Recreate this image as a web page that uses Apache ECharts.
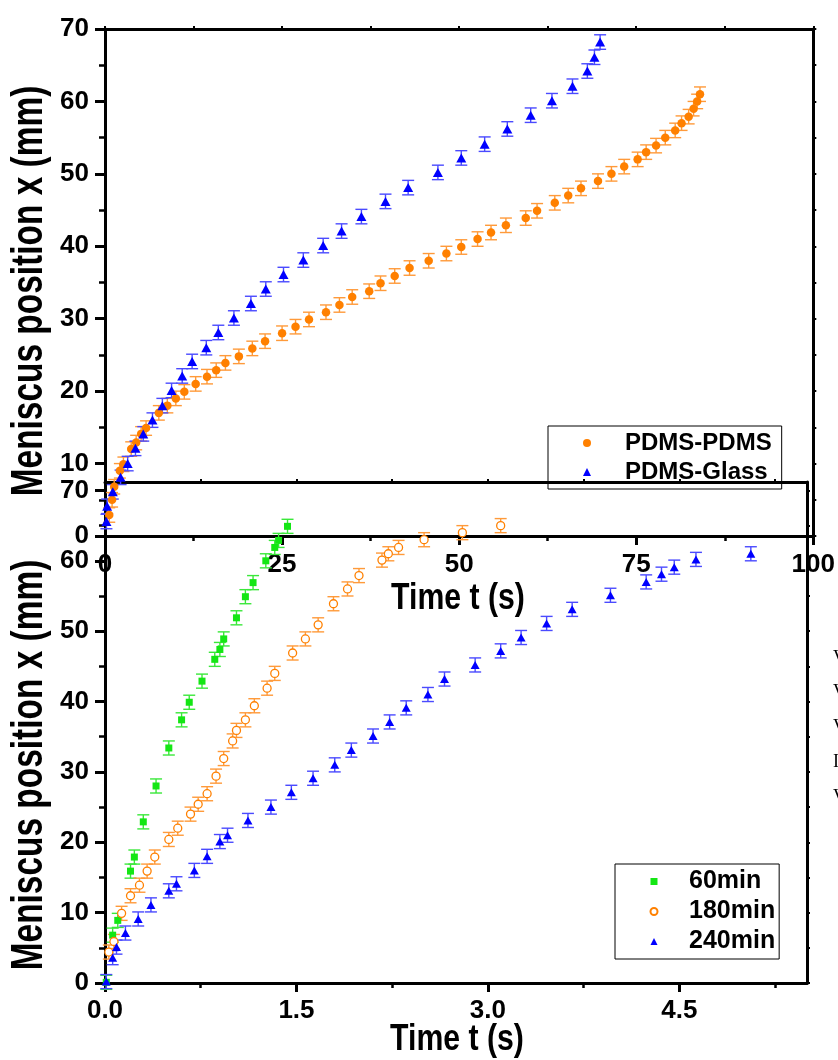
<!DOCTYPE html>
<html>
<head>
<meta charset="utf-8">
<script src="https://cdn.jsdelivr.net/npm/echarts@6/dist/echarts.min.js"></script>
<style>
html,body{margin:0;padding:0;background:#fff;}
#c{width:838px;height:1060px;}
</style>
</head>
<body>
<div id="c"></div>
<script>
// ---------- DATA ----------
// Top panel: time (s) vs meniscus position (mm)
const pdmsPdmsT = [0.6,1.0,1.3,2.1,2.6,3.7,4.4,5.1,5.8,7.6,8.8,10.0,11.2,12.8,14.4,15.7,17.0,18.9,20.8,22.6,25.0,26.9,28.8,31.2,33.1,34.9,37.3,38.9,40.9,43.0,45.7,48.2,50.3,52.6,54.5,56.6,59.4,61.0,63.5,65.4,67.2,69.6,71.5,73.3,75.2,76.4,77.8,79.1,80.5,81.4,82.4,83.1,83.6,84.0];
const pdmsPdmsX = [2.9,5.0,6.8,9.0,9.9,12.0,12.9,14.1,14.9,17.0,18.0,19.0,19.9,21.0,22.0,22.9,23.9,24.8,25.9,26.9,28.0,28.9,29.9,30.9,31.9,33.0,33.8,34.9,35.9,37.0,38.0,39.0,39.9,41.0,41.9,42.9,43.9,44.9,46.0,47.0,48.0,49.0,50.0,51.0,52.0,53.0,53.9,55.0,56.0,57.0,57.9,59.0,60.0,61.0];
const pdmsGlassT = [0.2,0.3,1.1,2.2,3.2,4.3,5.4,6.7,8.1,9.4,10.9,12.3,14.3,16.0,18.2,20.6,22.7,25.2,28.0,30.8,33.4,36.2,39.6,42.8,47.0,50.3,53.6,56.8,60.1,63.1,66.0,68.1,69.1,69.9];
const pdmsGlassX = [2.0,4.1,6.1,8.1,10.0,12.1,14.1,16.0,18.0,20.1,22.1,24.1,26.0,28.1,30.1,32.1,34.1,36.1,38.1,40.1,42.1,44.1,46.2,48.1,50.2,52.2,54.1,56.2,58.1,60.1,62.1,64.2,66.1,68.2];
const topErr = 1.0;

// Bottom panel
const min60T = [0.01,0.06,0.10,0.20,0.23,0.30,0.40,0.50,0.60,0.66,0.76,0.86,0.90,0.93,1.03,1.10,1.16,1.26,1.33,1.36,1.43];
const min60X = [0.1,6.8,8.9,15.9,17.9,22.9,28.0,33.4,37.4,39.9,42.9,46.0,47.4,48.9,51.9,54.9,56.9,60.0,61.9,62.9,64.9];
const min180T = [0.03,0.07,0.13,0.20,0.27,0.33,0.39,0.50,0.57,0.67,0.73,0.80,0.87,0.93,1.00,1.03,1.10,1.17,1.27,1.33,1.47,1.57,1.67,1.79,1.90,1.99,2.17,2.22,2.30,2.50,2.80,3.10];
const min180X = [4.4,5.9,9.9,12.4,13.9,15.9,17.9,20.4,22.0,24.0,25.4,26.9,29.4,31.9,34.4,35.9,37.4,39.4,41.9,44.0,46.9,48.9,50.9,53.9,56.0,57.9,60.1,61.0,61.9,63.0,64.0,65.0];
const min240T = [0.01,0.06,0.09,0.16,0.26,0.36,0.50,0.56,0.70,0.80,0.90,0.96,1.12,1.30,1.46,1.63,1.80,1.93,2.10,2.23,2.36,2.53,2.66,2.90,3.10,3.26,3.46,3.66,3.96,4.24,4.36,4.46,4.63,5.06];
const min240X = [0.2,3.6,5.1,7.1,9.1,11.1,13.1,14.1,16.0,18.0,20.1,21.0,23.1,25.0,27.1,29.1,31.0,33.1,35.1,37.1,39.1,41.0,43.2,45.2,47.2,49.1,51.1,53.1,55.1,57.0,58.1,59.1,60.2,61.0];
const bottomErr = 1.0;

// Tick values
const topXTicks = [0,25,50,75,100];
const topYTicks = [0,10,20,30,40,50,60,70];
const botXTicks = [0,1.5,3.0,4.5];
const botXMinor = [0,0.75,1.5,2.25,3.0,3.75,4.5,5.25];
const botYTicks = [0,10,20,30,40,50,60,70];
const botYMinor = [0,5,10,15,20,25,30,35,40,45,50,55,60,65,70];

// Titles
const yTitle = 'Meniscus position x (mm)';
const xTitle = 'Time t (s)';

// ---------- STYLE ----------
const FONT = "'Liberation Sans', Arial, Helvetica, sans-serif";
const ORANGE = '#ff8000', ORANGE_E = '#ff9a3a';
const BLUE = '#0000ff', BLUE_E = '#4a4aff';
const GREEN = '#14e614', GREEN_E = '#3ae83a';

const chart = echarts.init(document.getElementById('c'), null, {renderer: 'canvas'});

const zip = (a, b) => a.map((v, i) => [v, b[i]]);

function errSeries(name, xi, yi, ts, vs, err, color) {
  return {
    type: 'custom', name: name, xAxisIndex: xi, yAxisIndex: yi, z: 1, silent: true,
    encode: {x: 0, y: 1},
    data: ts.map((t, i) => [t, vs[i], err]),
    renderItem: function (params, api) {
      const x = api.value(0), y = api.value(1), e = api.value(2);
      const p1 = api.coord([x, y + e]), p2 = api.coord([x, y - e]);
      const h = 6;
      const st = {stroke: color, lineWidth: 1.4};
      return {type: 'group', children: [
        {type: 'line', shape: {x1: p1[0], y1: p1[1], x2: p2[0], y2: p2[1]}, style: st},
        {type: 'line', shape: {x1: p1[0] - h, y1: p1[1], x2: p1[0] + h, y2: p1[1]}, style: st},
        {type: 'line', shape: {x1: p2[0] - h, y1: p2[1], x2: p2[0] + h, y2: p2[1]}, style: st}
      ]};
    }
  };
}

const lineStyle = {color: '#000', width: 3};
const labelStyle = {fontFamily: FONT, fontSize: 26, fontWeight: 'bold', color: '#000'};

function mainAxis(extra) {
  return Object.assign({
    type: 'value',
    axisLine: {show: true, onZero: false, lineStyle: lineStyle},
    splitLine: {show: false},
    minorSplitLine: {show: false}
  }, extra);
}

function titleText(text, x, y, rot, size, sx) {
  return {type: 'text', x: x, y: y, rotation: rot, scaleX: sx, scaleY: 1,
    style: {text: text, font: 'bold ' + size + 'px ' + FONT, fill: '#000', align: 'center', verticalAlign: 'middle'}};
}

const option = {
  animation: false,
  backgroundColor: '#fff',
  grid: [
    {left: 105, top: 29, width: 709, height: 507},
    {left: 105, top: 482, width: 702, height: 501},
    {left: 105, top: 482, width: 702, height: 501}
  ],
  xAxis: [
    mainAxis({gridIndex: 0, position: 'bottom', min: 0, max: 100, interval: 25,
      axisTick: {show: true, length: 9, lineStyle: {width: 3, color: '#000'}},
      minorTick: {show: true, splitNumber: 2, length: 5, lineStyle: {width: 2.5, color: '#000'}},
      axisLabel: Object.assign({margin: 16, customValues: topXTicks}, labelStyle)}),
    mainAxis({gridIndex: 0, position: 'top', min: 0, max: 100, interval: 25,
      axisTick: {show: true, length: 3, lineStyle: {width: 2, color: '#000'}},
      minorTick: {show: true, splitNumber: 2, length: 3, lineStyle: {width: 2, color: '#000'}},
      axisLabel: {show: false}}),
    mainAxis({gridIndex: 1, position: 'bottom', min: 0, max: 5.5,
      axisTick: {show: true, length: 9, customValues: botXTicks, lineStyle: {width: 3, color: '#000'}},
      axisLabel: Object.assign({margin: 15, customValues: botXTicks, formatter: v => Number(v).toFixed(1)}, labelStyle)}),
    mainAxis({gridIndex: 1, position: 'top', min: 0, max: 5.5,
      axisTick: {show: true, length: 3, customValues: botXMinor, lineStyle: {width: 2, color: '#000'}},
      axisLabel: {show: false}}),
    {type: 'value', gridIndex: 2, position: 'bottom', min: 0, max: 5.5,
      axisLine: {show: false}, splitLine: {show: false},
      axisTick: {show: true, length: 5, customValues: botXMinor, lineStyle: {width: 2.5, color: '#000'}},
      axisLabel: {show: false}}
  ],
  yAxis: [
    mainAxis({gridIndex: 0, position: 'left', min: 0, max: 70, interval: 10,
      axisTick: {show: true, length: 10, lineStyle: {width: 3, color: '#000'}},
      minorTick: {show: true, splitNumber: 2, length: 6, lineStyle: {width: 2.5, color: '#000'}},
      axisLabel: Object.assign({margin: 16, customValues: topYTicks}, labelStyle)}),
    mainAxis({gridIndex: 0, position: 'right', min: 0, max: 70, interval: 10,
      axisTick: {show: true, length: 3, lineStyle: {width: 2, color: '#000'}},
      minorTick: {show: true, splitNumber: 2, length: 3, lineStyle: {width: 2, color: '#000'}},
      axisLabel: {show: false}}),
    mainAxis({gridIndex: 1, position: 'left', min: 0, max: 71.2,
      axisTick: {show: true, length: 10, customValues: botYTicks, lineStyle: {width: 3, color: '#000'}},
      axisLabel: Object.assign({margin: 16, customValues: botYTicks}, labelStyle)}),
    mainAxis({gridIndex: 1, position: 'right', min: 0, max: 71.2,
      axisTick: {show: true, length: 3, customValues: botYMinor, lineStyle: {width: 2, color: '#000'}},
      axisLabel: {show: false}}),
    {type: 'value', gridIndex: 2, position: 'left', min: 0, max: 71.2,
      axisLine: {show: false}, splitLine: {show: false},
      axisTick: {show: true, length: 6, customValues: botYMinor, lineStyle: {width: 2.5, color: '#000'}},
      axisLabel: {show: false}}
  ],
  legend: [
    {
      data: [{name: 'PDMS-PDMS', icon: 'circle'}, {name: 'PDMS-Glass', icon: 'triangle'}],
      orient: 'vertical', left: 548, top: 426, itemWidth: 8, itemHeight: 8, itemGap: 1,
      padding: [3, 10, 3, 35], borderColor: '#000', borderWidth: 1, selectedMode: false,
      formatter: n => '{s|}' + n,
      textStyle: {fontFamily: FONT, fontSize: 24, fontWeight: 'bold', color: '#000', lineHeight: 28,
        rich: {s: {width: 29}}}
    },
    {
      data: [{name: '60min', icon: 'rect'}, {name: '180min', icon: 'circle'}, {name: '240min', icon: 'triangle'}],
      orient: 'vertical', left: 615, top: 864, itemWidth: 7, itemHeight: 7, itemGap: 3,
      padding: [4, 4, 4, 34.5], borderColor: '#000', borderWidth: 1, selectedMode: false,
      formatter: n => '{s|}' + n,
      textStyle: {fontFamily: FONT, fontSize: 25, fontWeight: 'bold', color: '#000', lineHeight: 27,
        rich: {s: {width: 26.5}}}
    }
  ],
  graphic: [
    titleText(yTitle, 30, 291, Math.PI / 2, 44, 0.76),
    titleText(yTitle, 30, 765, Math.PI / 2, 44, 0.76),
    titleText(xTitle, 458, 599, 0, 36, 0.84),
    titleText(xTitle, 457, 1040, 0, 36, 0.84),
    {type: 'text', x: 833, y: 658, style: {text: 'V', font: "18px 'Liberation Serif', serif", fill: '#000', verticalAlign: 'middle'}},
    {type: 'text', x: 833, y: 692, style: {text: 'V', font: "18px 'Liberation Serif', serif", fill: '#000', verticalAlign: 'middle'}},
    {type: 'text', x: 833, y: 727, style: {text: 'V', font: "18px 'Liberation Serif', serif", fill: '#000', verticalAlign: 'middle'}},
    {type: 'text', x: 833, y: 762, style: {text: 'I', font: "18px 'Liberation Serif', serif", fill: '#000', verticalAlign: 'middle'}},
    {type: 'text', x: 833, y: 797, style: {text: 'V', font: "18px 'Liberation Serif', serif", fill: '#000', verticalAlign: 'middle'}}
  ],
  series: [
    errSeries('err-pp', 0, 0, pdmsPdmsT, pdmsPdmsX, topErr, ORANGE_E),
    errSeries('err-pg', 0, 0, pdmsGlassT, pdmsGlassX, topErr, BLUE_E),
    {type: 'scatter', name: 'PDMS-PDMS', xAxisIndex: 0, yAxisIndex: 0, symbol: 'circle', symbolSize: 8.5,
      itemStyle: {color: ORANGE, opacity: 1}, data: zip(pdmsPdmsT, pdmsPdmsX), z: 3},
    {type: 'scatter', name: 'PDMS-Glass', xAxisIndex: 0, yAxisIndex: 0, symbol: 'triangle', symbolSize: [10, 9],
      itemStyle: {color: BLUE, opacity: 1}, data: zip(pdmsGlassT, pdmsGlassX), z: 3},
    errSeries('err-60', 2, 2, min60T, min60X, bottomErr, GREEN_E),
    errSeries('err-180', 2, 2, min180T, min180X, bottomErr, ORANGE_E),
    errSeries('err-240', 2, 2, min240T, min240X, bottomErr, BLUE_E),
    {type: 'scatter', name: '60min', xAxisIndex: 2, yAxisIndex: 2, symbol: 'rect', symbolSize: 7,
      itemStyle: {color: GREEN, opacity: 1}, data: zip(min60T, min60X), z: 3},
    {type: 'scatter', name: '180min', xAxisIndex: 2, yAxisIndex: 2, symbol: 'circle', symbolSize: 8,
      itemStyle: {color: '#fff', borderColor: ORANGE, borderWidth: 1.3, opacity: 1}, data: zip(min180T, min180X), z: 3},
    {type: 'scatter', name: '240min', xAxisIndex: 2, yAxisIndex: 2, symbol: 'triangle', symbolSize: [9, 8],
      itemStyle: {color: BLUE, opacity: 1}, data: zip(min240T, min240X), z: 3}
  ]
};
chart.setOption(option);
</script>
</body>
</html>
